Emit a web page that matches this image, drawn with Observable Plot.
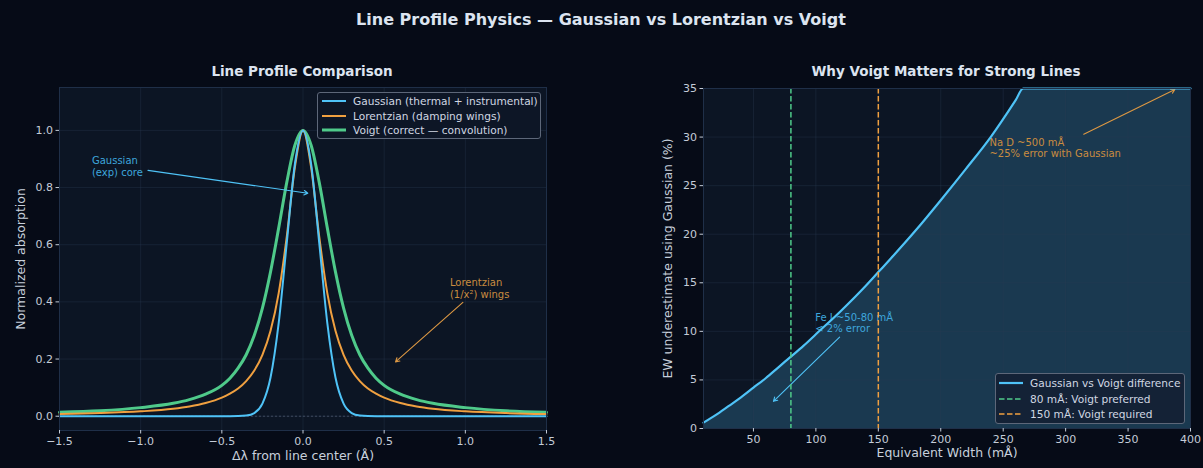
<!DOCTYPE html>
<html>
<head>
<meta charset="utf-8">
<script src="https://cdn.jsdelivr.net/npm/d3@7"></script>
<script src="https://cdn.jsdelivr.net/npm/@observablehq/plot@0.6"></script>
<style>
html, body { margin: 0; padding: 0; background: #060b17; }
#fig { position: relative; width: 1203px; height: 468px; background: #060b17; overflow: hidden;
       font-family: "DejaVu Sans", sans-serif; color: #c8d0dc; }
.ttl { position: absolute; white-space: nowrap; transform: translateX(-50%); font-weight: bold; color: #dce4f0; }
.panel { position: absolute; top: 0; }
.legend { position: absolute; border: 1px solid #5d6779; border-radius: 3px; box-sizing: border-box;
          font-size: 10.6px; color: #d0d7e2; padding: 0 4px 0 4px; }
.legend .row { display: flex; align-items: center; height: 14.5px; white-space: nowrap; }
.legend svg { margin-right: 7px; flex: none; }
</style>
</head>
<body>
<div id="fig">
  <div class="ttl" id="suptitle" style="left:601px; top:10px; font-size:16px;"></div>
  <div class="ttl" id="title-left" style="left:302px; top:63px; font-size:13.5px;"></div>
  <div class="ttl" id="title-right" style="left:946px; top:63px; font-size:13.5px;"></div>
  <div class="panel" id="left" style="left:0px;"></div>
  <div class="panel" id="right" style="left:620px;"></div>
  <div class="legend" id="legend-left" style="left:317px; top:92px; width:224px; height:47px; background:#0d1626; padding-top:1px;"></div>
  <div class="legend" id="legend-right" style="left:995px; top:373px; width:190px; height:51px; background:#142236; padding:1px 3px 0 3px;"></div>
</div>
<script>
// ---------- text ----------
const suptitle = "Line Profile Physics — Gaussian vs Lorentzian vs Voigt";
const titleLeft = "Line Profile Comparison";
const titleRight = "Why Voigt Matters for Strong Lines";
const xLabelLeft = "Δλ from line center (Å)";
const yLabelLeft = "Normalized absorption";
const xLabelRight = "Equivalent Width (mÅ)";
const yLabelRight = "EW underestimate using Gaussian (%)";

// ---------- left panel data ----------
const dLambda = [-1.5, -1.25, -1.0, -0.8, -0.7, -0.6, -0.5, -0.45, -0.4, -0.35, -0.3, -0.25, -0.2, -0.15, -0.1, -0.05, 0,
                 0.05, 0.1, 0.15, 0.2, 0.25, 0.3, 0.35, 0.4, 0.45, 0.5, 0.6, 0.7, 0.8, 1.0, 1.25, 1.5];
const gaussianProfile = [0, 0, 0, 0, 0, 0, 0, 0, 0.0003, 0.0022, 0.0111, 0.0439, 0.1353, 0.3247, 0.6065, 0.8825, 1,
                         0.8825, 0.6065, 0.3247, 0.1353, 0.0439, 0.0111, 0.0022, 0.0003, 0, 0, 0, 0, 0, 0, 0, 0];
const lorentzianProfile = [0.0078, 0.011, 0.017, 0.026, 0.034, 0.046, 0.065, 0.079, 0.097, 0.123, 0.160, 0.215, 0.299, 0.430, 0.628, 0.871, 1,
                           0.871, 0.628, 0.430, 0.299, 0.215, 0.160, 0.123, 0.097, 0.079, 0.065, 0.046, 0.034, 0.026, 0.017, 0.011, 0.0078];
const voigtProfile = [0.014, 0.019, 0.030, 0.045, 0.058, 0.077, 0.108, 0.133, 0.168, 0.215, 0.283, 0.378, 0.505, 0.658, 0.818, 0.948, 1,
                      0.948, 0.818, 0.658, 0.505, 0.378, 0.283, 0.215, 0.168, 0.133, 0.108, 0.077, 0.058, 0.045, 0.030, 0.019, 0.014];
const profileNames = ["Gaussian (thermal + instrumental)", "Lorentzian (damping wings)", "Voigt (correct — convolution)"];
const profileColors = ["#4fc3f7", "#f0a040", "#4fca8a"];
const profileWidths = [2, 2, 3];
const xTicksLeft = [-1.5, -1.0, -0.5, 0.0, 0.5, 1.0, 1.5];
const yTicksLeft = [0.0, 0.2, 0.4, 0.6, 0.8, 1.0];

// annotations (data units)
const annGaussText = "Gaussian\n(exp) core";
const annGaussTextXY = [-1.3, 0.875];
const annGaussArrow = [-0.955, 0.86, 0.03, 0.78];
const annLorText = "Lorentzian\n(1/x²) wings";
const annLorTextXY = [0.905, 0.447];
const annLorArrow = [0.985, 0.398, 0.57, 0.19];

// ---------- right panel data ----------
const equivalentWidth = [10, 20, 30, 40, 50, 60, 70, 80, 90, 100, 120, 140, 150, 160, 180, 200, 220, 240, 260, 266, 270, 300, 350, 400];
const underestimatePct = [0.6, 1.4, 2.3, 3.2, 4.2, 5.2, 6.3, 7.4, 8.5, 9.7, 12.1, 14.7, 16.1, 17.5, 20.4, 23.5, 26.7, 30.0, 33.8, 35, 35, 35, 35, 35];
const thresholdEW = [80, 150];
const thresholdColors = ["#4fca8a", "#f0a040"];
const rightLegendNames = ["Gaussian vs Voigt difference", "80 mÅ: Voigt preferred", "150 mÅ: Voigt required"];
const xTicksRight = [50, 100, 150, 200, 250, 300, 350, 400];
const yTicksRight = [0, 5, 10, 15, 20, 25, 30, 35];

const annFeText = "Fe I ~50-80 mÅ\n< 2% error";
const annFeTextXY = [99.5, 10.9];
const annFeArrow = [119, 9.4, 66, 2.8];
const annNaText = "Na D ~500 mÅ\n~25% error with Gaussian";
const annNaTextXY = [239, 28.9];
const annNaArrow = [314.5, 30.3, 387.5, 34.9];

// ---------- styles ----------
const axBg = "#0c1524";
const gridColor = "#2a3b54";
const spineColor = "#1f2f48";
const tickColor = "#c4ccd8";
const fmt1 = d3.format(".1f");

document.getElementById("suptitle").textContent = suptitle;
document.getElementById("title-left").textContent = titleLeft;
document.getElementById("title-right").textContent = titleRight;

// ---------- left plot ----------
const profileRows = [];
[gaussianProfile, lorentzianProfile, voigtProfile].forEach((vals, k) => {
  vals.forEach((v, i) => profileRows.push({x: dLambda[i], y: v, k}));
});

const left = Plot.plot({
  width: 620, height: 468,
  marginLeft: 59, marginRight: 74, marginTop: 87, marginBottom: 38,
  style: {background: "transparent", color: tickColor, fontFamily: "DejaVu Sans, sans-serif", fontSize: "11px", overflow: "visible"},
  x: {domain: [-1.5, 1.5], label: null},
  y: {domain: [-0.05, 1.15], label: null},
  marks: [
    Plot.frame({fill: axBg, stroke: null}),
    Plot.gridX(xTicksLeft, {stroke: gridColor, strokeOpacity: 0.35}),
    Plot.gridY(yTicksLeft, {stroke: gridColor, strokeOpacity: 0.35}),
    Plot.ruleY([0], {stroke: "#8fa0b5", strokeOpacity: 0.45, strokeDasharray: "2,2", strokeWidth: 0.8}),
    ...[2, 1, 0].map(k => Plot.line(profileRows.filter(r => r.k === k), {
      x: "x", y: "y", stroke: profileColors[k], strokeWidth: profileWidths[k], curve: "monotone-x"
    })),
    Plot.frame({stroke: spineColor}),
    Plot.axisX(xTicksLeft, {tickFormat: fmt1, tickSize: 3.5, tickPadding: 3, fontSize: 11, label: null}),
    Plot.axisY(yTicksLeft, {tickFormat: fmt1, tickSize: 3.5, tickPadding: 3, fontSize: 11, label: null}),
    Plot.text([xLabelLeft], {frameAnchor: "bottom", dy: 21, lineAnchor: "top", textAnchor: "middle", fontSize: 12.5, fill: "#c8d0dc", text: d => d}),
    Plot.text([yLabelLeft], {frameAnchor: "left", dx: -39, rotate: -90, lineAnchor: "middle", textAnchor: "middle", fontSize: 12.5, fill: "#c8d0dc", text: d => d}),
    Plot.text([annGaussText], {x: annGaussTextXY[0], y: annGaussTextXY[1], text: d => d, textAnchor: "start", lineAnchor: "middle", fontSize: 10, fill: "#3ea6dc", lineHeight: 1.15}),
    Plot.arrow([annGaussArrow], {x1: d => d[0], y1: d => d[1], x2: d => d[2], y2: d => d[3], stroke: "#4fc3f7", strokeWidth: 1.1, headLength: 6, bend: 0}),
    Plot.text([annLorText], {x: annLorTextXY[0], y: annLorTextXY[1], text: d => d, textAnchor: "start", lineAnchor: "middle", fontSize: 10, fill: "#c98c40", lineHeight: 1.15}),
    Plot.arrow([annLorArrow], {x1: d => d[0], y1: d => d[1], x2: d => d[2], y2: d => d[3], stroke: "#dd9843", strokeWidth: 1.1, headLength: 6, bend: 0})
  ]
});
document.getElementById("left").appendChild(left);

// ---------- right plot ----------
const ewRows = equivalentWidth.map((w, i) => ({x: w, y: underestimatePct[i]}));

const right = Plot.plot({
  width: 583, height: 468,
  marginLeft: 83, marginRight: 13, marginTop: 88, marginBottom: 40,
  style: {background: "transparent", color: tickColor, fontFamily: "DejaVu Sans, sans-serif", fontSize: "11px", overflow: "visible"},
  x: {domain: [10, 400], label: null},
  y: {domain: [0, 35], label: null},
  marks: [
    Plot.frame({fill: axBg, stroke: null}),
    Plot.areaY(ewRows, {x: "x", y: "y", fill: "#4fc3f7", fillOpacity: 0.21, curve: "monotone-x"}),
    Plot.gridX(xTicksRight, {stroke: gridColor, strokeOpacity: 0.35}),
    Plot.gridY(yTicksRight, {stroke: gridColor, strokeOpacity: 0.35}),
    Plot.text([annFeText], {x: annFeTextXY[0], y: annFeTextXY[1], text: d => d, textAnchor: "start", lineAnchor: "middle", fontSize: 10, fill: "#3ea6dc", lineHeight: 1.15}),
    Plot.arrow([annFeArrow], {x1: d => d[0], y1: d => d[1], x2: d => d[2], y2: d => d[3], stroke: "#4fc3f7", strokeWidth: 1.1, headLength: 6, bend: 0}),
    Plot.text([annNaText], {x: annNaTextXY[0], y: annNaTextXY[1], text: d => d, textAnchor: "start", lineAnchor: "middle", fontSize: 10, fill: "#c98c40", lineHeight: 1.15}),
    Plot.arrow([annNaArrow], {x1: d => d[0], y1: d => d[1], x2: d => d[2], y2: d => d[3], stroke: "#dd9843", strokeWidth: 1.1, headLength: 6, bend: 0}),
    Plot.line(ewRows, {x: "x", y: "y", stroke: "#4fc3f7", strokeWidth: 2.2, curve: "monotone-x"}),
    ...thresholdEW.map((w, i) => Plot.ruleX([w], {stroke: thresholdColors[i], strokeWidth: 1.5, strokeDasharray: "5.5,2.5"})),
    Plot.frame({stroke: spineColor}),
    Plot.axisX(xTicksRight, {tickFormat: d3.format("d"), tickSize: 3.5, tickPadding: 3, fontSize: 11, label: null}),
    Plot.axisY(yTicksRight, {tickFormat: d3.format("d"), tickSize: 3.5, tickPadding: 3, fontSize: 11, label: null}),
    Plot.text([xLabelRight], {frameAnchor: "bottom", dy: 20, lineAnchor: "top", textAnchor: "middle", fontSize: 12.5, fill: "#c8d0dc", text: d => d}),
    Plot.text([yLabelRight], {frameAnchor: "left", dx: -36, rotate: -90, lineAnchor: "middle", textAnchor: "middle", fontSize: 12.5, fill: "#c8d0dc", text: d => d})
  ]
});
document.getElementById("right").appendChild(right);

// ---------- legends ----------
function sample(color, width, dash) {
  return `<svg width="24" height="6"><line x1="0" y1="3" x2="24" y2="3" stroke="${color}" stroke-width="${width}" ${dash ? `stroke-dasharray="${dash}"` : ""}/></svg>`;
}
document.getElementById("legend-left").innerHTML = profileNames.map((n, k) =>
  `<div class="row">${sample(profileColors[k], profileWidths[k])}<span>${n}</span></div>`).join("");
const rightSamples = [["#4fc3f7", 2.2, null], [thresholdColors[0], 1.5, "5.5,2.5"], [thresholdColors[1], 1.5, "5.5,2.5"]];
document.getElementById("legend-right").innerHTML = rightLegendNames.map((n, k) =>
  `<div class="row" style="height:15.7px">${sample(...rightSamples[k])}<span>${n}</span></div>`).join("");
</script>
</body>
</html>
